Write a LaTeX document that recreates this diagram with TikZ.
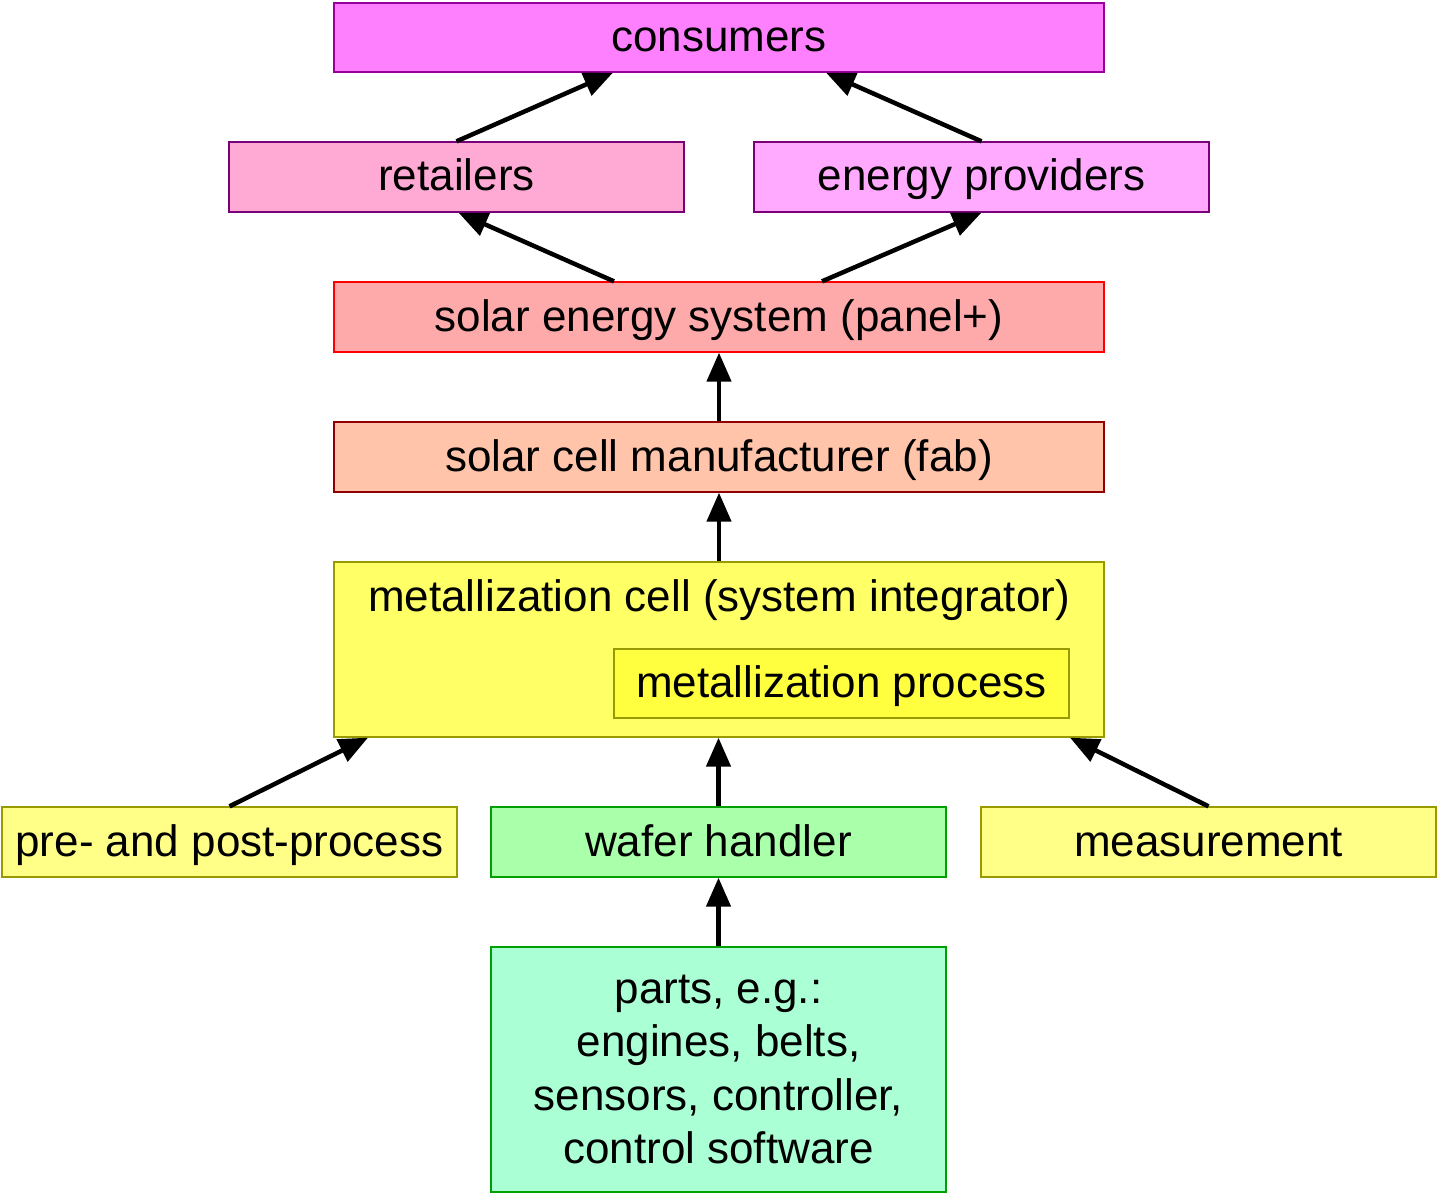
\documentclass[tikz,border=0pt]{standalone}
\usepackage{fontspec}
\setmainfont{Liberation Sans}
\usepackage{tikz}
\usetikzlibrary{arrows.meta}
\definecolor{consfill}{HTML}{FF80FF}
\definecolor{retfill}{HTML}{FFAAD4}
\definecolor{provfill}{HTML}{FFAAFF}
\definecolor{solfill}{HTML}{FFAAAA}
\definecolor{fabfill}{HTML}{FFC4AA}
\definecolor{cellfill}{HTML}{FFFF66}
\definecolor{procfill}{HTML}{FFFF40}
\definecolor{sidefill}{HTML}{FFFF88}
\definecolor{waferfill}{HTML}{AAFFAA}
\definecolor{partsfill}{HTML}{AAFFD4}
\definecolor{purpline}{HTML}{990099}
\definecolor{oliveline}{HTML}{999900}
\definecolor{greenline}{HTML}{00A000}
\definecolor{darkred}{HTML}{900000}
\tikzstyle{box} = [draw, rectangle, align=center, inner sep=0pt, line width=1.3pt,
    text height=33pt, text depth=5pt, font=\fontsize{44}{53.3}\selectfont]
\tikzstyle{arrow} = [line width=4.5pt,-{Triangle[length=29pt,width=24pt]}]

\begin{document}
\begin{tikzpicture}[x=1pt,y=-1pt]
    \useasboundingbox (0,0) rectangle (1437,1193);
    % top of the chain
    \node[box,fill=consfill,draw=purpline,minimum width=770pt,minimum height=69pt]
        (cons) at (719,37.5) {consumers};
    \node[box,fill=retfill,draw=purpline!80!black,minimum width=455pt,minimum height=70pt]
        (retail) at (456.5,177) {retailers};
    \node[box,fill=provfill,draw=purpline!80!black,minimum width=455pt,minimum height=70pt]
        (prov) at (981.5,177) {energy providers};
    \node[box,fill=solfill,draw=red,minimum width=770pt,minimum height=70pt]
        (solar) at (719,317) {solar energy system (panel+)};
    \node[box,fill=fabfill,draw=darkred,minimum width=770pt,minimum height=70pt]
        (fab) at (719,457) {solar cell manufacturer (fab)};
    % metallization cell with its process
    \node[box,fill=cellfill,draw=oliveline,minimum width=770pt,minimum height=175pt]
        (cell) at (719,649.5) {};
    \node[box,draw=none,fill=none] (celltitle) at (719,597) {metallization cell (system integrator)};
    \node[box,fill=procfill,draw=oliveline,minimum width=455pt,minimum height=69pt]
        (proc) at (841.5,683.5) {metallization process};
    % suppliers
    \node[box,fill=sidefill,draw=oliveline,minimum width=455pt,minimum height=70pt]
        (pre) at (229.5,842) {pre- and post-process};
    \node[box,fill=waferfill,draw=greenline,minimum width=455pt,minimum height=70pt]
        (wafer) at (718.5,842) {wafer handler};
    \node[box,fill=sidefill,draw=oliveline,minimum width=455pt,minimum height=70pt]
        (meas) at (1208.5,842) {measurement};
    \node[box,text height={},text depth={},fill=partsfill,draw=greenline,minimum width=455pt,minimum height=245pt]
        (parts) at (718.5,1069.5) {parts, e.g.:\\ engines, belts,\\ sensors, controller,\\ control software};
    % arrows
    \draw[arrow] (retail.north) -- ([xshift=-106pt]cons.south);
    \draw[arrow] (prov.north) -- ([xshift=107pt]cons.south);
    \draw[arrow] ([xshift=-105pt]solar.north) -- ([xshift=2pt]retail.south);
    \draw[arrow] ([xshift=103pt]solar.north) -- (prov.south);
    \draw[arrow] (fab.north) -- (solar.south);
    \draw[arrow] (cell.north) -- (fab.south);
    \draw[arrow] (pre.north) -- ([xshift=-351pt]cell.south);
    \draw[arrow] (wafer.north) -- (wafer.north |- cell.south);
    \draw[arrow] (meas.north) -- ([xshift=351pt]cell.south);
    \draw[arrow] (parts.north) -- (wafer.south);
\end{tikzpicture}
\end{document}
